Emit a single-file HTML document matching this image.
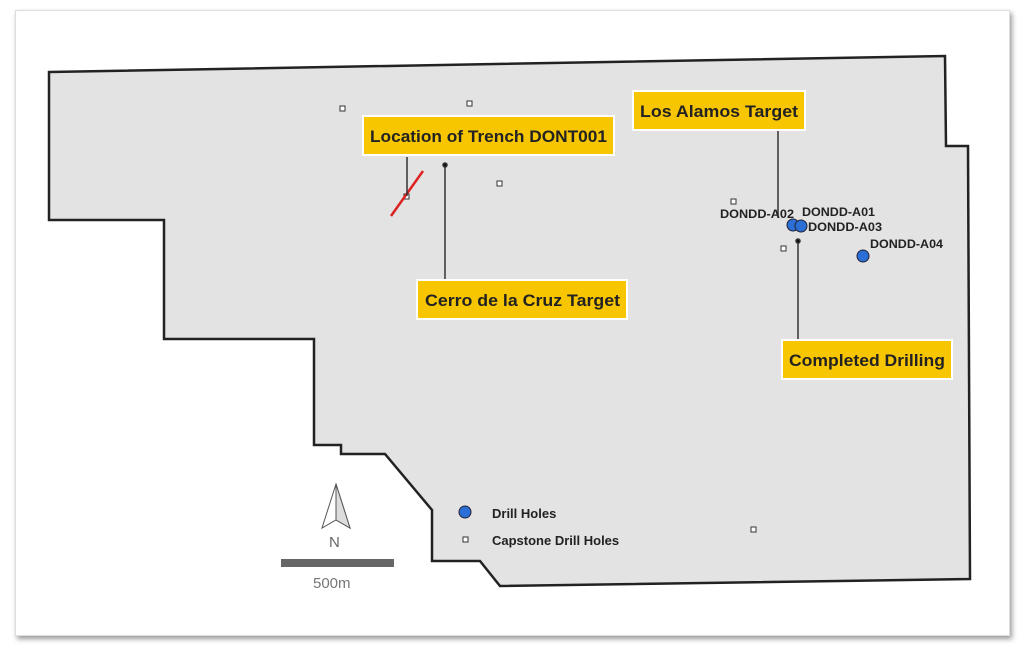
<!DOCTYPE html>
<html><head><style>
body{margin:0;width:1024px;height:655px;background:#fff;overflow:hidden;font-family:"Liberation Sans",sans-serif}
.card{position:absolute;left:15px;top:10px;width:993px;height:624px;background:#fff;border:1px solid #ddd;box-shadow:2px 3px 5px #999}
</style></head><body>
<div class="card"></div>
<svg style="position:absolute;left:0;top:0" width="1024" height="655" font-family="Liberation Sans, sans-serif">
<polygon points="49,72 945,56 946,146 968,146 970,579 500,586 480,561 432,561 432,510 385,454 341,454 341,445 314,445 314,339 164,339 164,220 49,220" fill="#e3e3e3" stroke="#222" stroke-width="2.5"/>
<g fill="#fff" stroke="#333" stroke-width="1">
<rect x="340" y="106" width="5" height="5"/><rect x="467" y="101" width="5" height="5"/><rect x="497" y="181" width="5" height="5"/>
<rect x="731" y="199" width="5" height="5"/><rect x="781" y="246" width="5" height="5"/><rect x="751" y="527" width="5" height="5"/>
<rect x="404" y="194" width="5" height="5"/><rect x="463" y="537" width="5" height="5"/>
</g>
<line x1="391" y1="216" x2="423" y2="171" stroke="#d22" stroke-width="2.5"/>
<g stroke="#333" stroke-width="1.5">
<line x1="407" y1="157" x2="407" y2="196"/>
<line x1="445" y1="165" x2="445" y2="280"/><circle cx="445" cy="165" r="2" fill="#111"/>
<line x1="778" y1="130" x2="778" y2="218"/>
<line x1="798" y1="241" x2="798" y2="340"/><circle cx="798" cy="241" r="2" fill="#111"/>
</g>
<g fill="#f7c600" stroke="#fff" stroke-width="2">
<rect x="363" y="116" width="251" height="39"/>
<rect x="633" y="91" width="172" height="39"/>
<rect x="417" y="280" width="210" height="39"/>
<rect x="782" y="340" width="170" height="39"/>
</g>
<g font-weight="bold" font-size="17" fill="#222">
<text x="370" y="142" textLength="237" lengthAdjust="spacingAndGlyphs">Location of Trench DONT001</text>
<text x="640" y="117" textLength="158" lengthAdjust="spacingAndGlyphs">Los Alamos Target</text>
<text x="425" y="306" textLength="195" lengthAdjust="spacingAndGlyphs">Cerro de la Cruz Target</text>
<text x="789" y="366" textLength="156" lengthAdjust="spacingAndGlyphs">Completed Drilling</text>
</g>
<g fill="#2b6fd6" stroke="#223" stroke-width="1">
<circle cx="793" cy="225" r="6"/><circle cx="801" cy="226" r="6"/><circle cx="863" cy="256" r="6"/><circle cx="465" cy="512" r="6"/>
</g>
<g font-weight="bold" font-size="12" fill="#222">
<text x="720" y="218" textLength="74" lengthAdjust="spacingAndGlyphs">DONDD-A02</text>
<text x="802" y="216" textLength="73" lengthAdjust="spacingAndGlyphs">DONDD-A01</text>
<text x="808" y="231" textLength="74" lengthAdjust="spacingAndGlyphs">DONDD-A03</text>
<text x="870" y="248" textLength="73" lengthAdjust="spacingAndGlyphs">DONDD-A04</text>
<text x="492" y="518" font-size="13">Drill Holes</text>
<text x="492" y="545" font-size="13">Capstone Drill Holes</text>
</g>
<polygon points="336,484 322,528 336,520 350,528" fill="#fff" stroke="#555" stroke-width="1"/>
<polygon points="336,484 336,520 350,528" fill="#ddd" stroke="#555" stroke-width="1"/>
<text x="329" y="547" font-size="15" fill="#666">N</text>
<rect x="281" y="559" width="113" height="8" fill="#666"/>
<text x="313" y="588" font-size="15" fill="#777">500m</text>
</svg>
</body></html>
